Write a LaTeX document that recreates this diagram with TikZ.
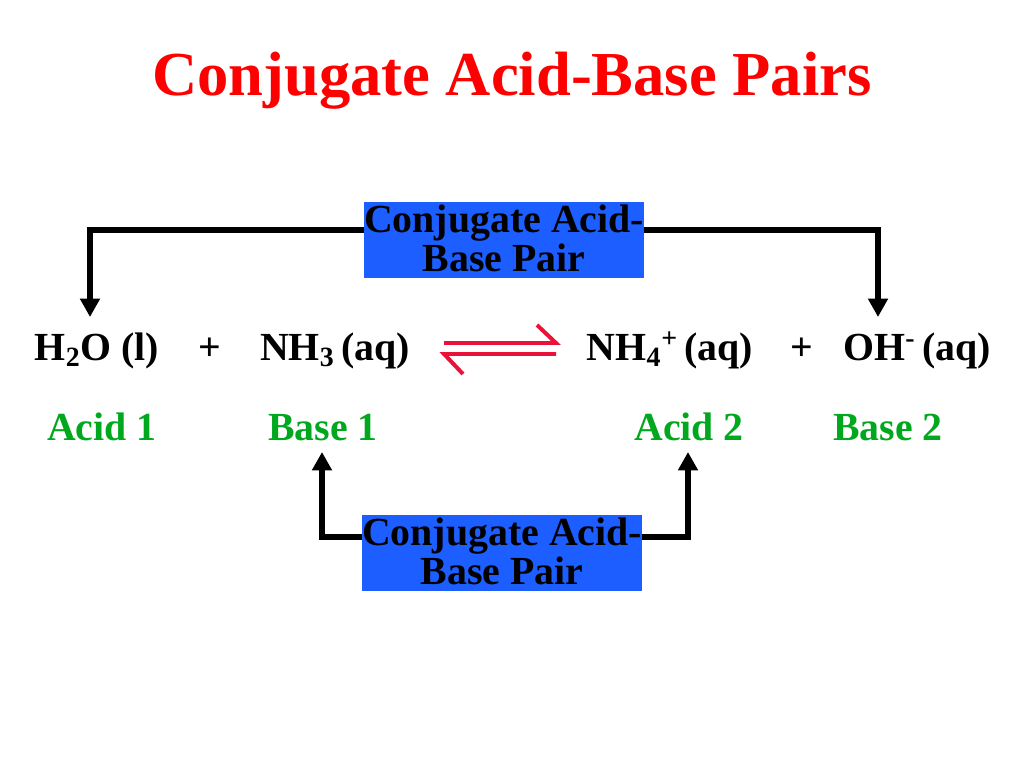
\documentclass[tikz,border=0pt]{standalone}
\usepackage{fontspec}
\setmainfont{Liberation Serif}
\usetikzlibrary{arrows.meta}
\definecolor{titlered}{RGB}{255,0,0}
\definecolor{eqred}{RGB}{232,18,58}
\definecolor{boxblue}{RGB}{28,94,255}
\definecolor{labgreen}{RGB}{0,168,30}
\tikzset{
  chem/.style={anchor=base, inner sep=0pt, font=\fontsize{28}{32}\selectfont\bfseries},
  lab/.style={anchor=base, inner sep=0pt, text=labgreen, font=\fontsize{28}{32}\selectfont\bfseries},
  pairbox/.style={draw=none, fill=boxblue, minimum width=280*0.703125pt, minimum height=76*0.703125pt, inner sep=0pt},
  pairtext/.style={inner sep=0pt, align=center, font=\fontsize{28}{27.4}\selectfont\bfseries},
  conn/.style={line width=4.2pt, line join=miter, -{Triangle[width=13.5pt,length=13pt]}},
  eqline/.style={line width=2.8pt, eqred, line cap=butt}
}
\begin{document}
\begin{tikzpicture}[x=0.703125pt, y=-0.703125pt]
\useasboundingbox[fill=white] (0,0) rectangle (1024,768);
% title
\node[anchor=base, inner sep=0pt, text=titlered, font=\fontsize{44}{48}\selectfont\bfseries] (title) at (512,96) {Conjugate Acid-Base Pairs};
% equation
\node[chem] (h2o) at (97,360) {H\textsubscript{2}O (l)};
\node[chem] (plus1) at (210,360) {+};
\node[chem] (nh3) at (335,360) {NH\textsubscript{3}\,(aq)};
\coordinate (eq) at (500,349);
\node[chem] (nh4) at (670,360) {NH\textsubscript{4}\textsuperscript{+}\,(aq)};
\node[chem] (plus2) at (802,360) {+};
\node[chem] (oh) at (917,360) {OH\textsuperscript{-}\,(aq)};
% equilibrium arrow
\draw[eqline] (444,343) -- (556,343) -- (537,325);
\draw[eqline] (556,354) -- (444,354) -- (463,374);
% labels
\node[lab] (acid1) at (102,440) {Acid 1};
\node[lab] (base1) at (323,440) {Base 1};
\node[lab] (acid2) at (689,440) {Acid 2};
\node[lab] (base2) at (888,440) {Base 2};
% boxes
\node[pairbox] (box1) at (504,240) {};
\node[pairtext] (box1t) at (504,238) {Conjugate Acid-\\Base Pair};
\node[pairbox] (box2) at (502,553) {};
\node[pairtext] (box2t) at (502,551) {Conjugate Acid-\\Base Pair};
% connectors
\coordinate (tipA) at (90,317);
\coordinate (tipB) at (878,317);
\coordinate (tipC) at (322,452);
\coordinate (tipD) at (688,452);
\draw[conn] ([yshift=7pt]box1.west) -| (tipA);
\draw[conn] ([yshift=7pt]box1.east) -| (tipB);
\draw[conn] ([yshift=11pt]box2.west) -| (tipC);
\draw[conn] ([yshift=11pt]box2.east) -| (tipD);
\end{tikzpicture}
\end{document}
